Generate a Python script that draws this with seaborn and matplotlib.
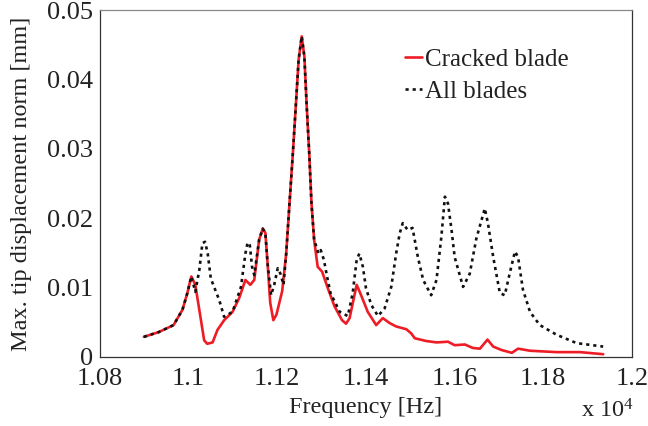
import matplotlib
matplotlib.use("Agg")
import matplotlib.pyplot as plt
import seaborn as sns
import pandas as pd

# Cracked blade response (frequency in Hz, amplitude in mm)
cracked_freq = [10899, 10933, 10966, 10986, 10997, 11006, 11015, 11024, 11035, 11042,
                11054, 11065, 11080, 11099, 11114, 11128, 11139, 11148, 11159, 11167,
                11173, 11178, 11184, 11191, 11198, 11211, 11220, 11227, 11235, 11242,
                11248, 11255, 11261, 11266, 11272, 11277, 11283, 11291, 11301, 11314,
                11329, 11346, 11355, 11363, 11379, 11389, 11404, 11423, 11438, 11453,
                11468, 11491, 11502, 11510, 11536, 11559, 11585, 11600, 11623, 11641,
                11657, 11674, 11687, 11706, 11729, 11743, 11770, 11830, 11883, 11935]
cracked_amp = [0.0029, 0.0036, 0.0046, 0.0068, 0.0092, 0.0116, 0.0104, 0.0068, 0.0024, 0.0019,
               0.0021, 0.0039, 0.0053, 0.0065, 0.0085, 0.0111, 0.0104, 0.0111, 0.0169, 0.0185,
               0.0179, 0.0135, 0.0078, 0.0053, 0.0061, 0.0095, 0.0149, 0.0217, 0.0293, 0.0365,
               0.0428, 0.0462, 0.0433, 0.0365, 0.0293, 0.0222, 0.0169, 0.0130, 0.0123, 0.0099,
               0.0073, 0.0053, 0.0048, 0.0056, 0.0104, 0.0089, 0.0065, 0.0046, 0.0056, 0.0049,
               0.0044, 0.0040, 0.0034, 0.0027, 0.0023, 0.0021, 0.0022, 0.0017, 0.0018, 0.0013,
               0.0012, 0.0025, 0.0015, 0.0010, 0.0006, 0.0012, 0.0009, 0.0007, 0.0007, 0.0004]

# All blades response
all_freq = [10899, 10933, 10966, 10986, 10997, 11006, 11015, 11024, 11031, 11037,
            11043, 11050, 11069, 11080, 11099, 11118, 11128, 11133, 11138, 11143,
            11148, 11159, 11167, 11173, 11178, 11186, 11193, 11201, 11207, 11214,
            11220, 11227, 11235, 11242, 11248, 11255, 11261, 11266, 11272, 11277,
            11283, 11293, 11298, 11305, 11314, 11320, 11341, 11359, 11370, 11379,
            11385, 11393, 11400, 11412, 11427, 11442, 11457, 11468, 11476, 11483,
            11494, 11505, 11517, 11529, 11547, 11559, 11570, 11578, 11585, 11593,
            11600, 11619, 11634, 11649, 11668, 11675, 11687, 11702, 11713, 11724,
            11736, 11743, 11754, 11770, 11792, 11830, 11875, 11935]
all_amp = [0.0029, 0.0036, 0.0046, 0.0068, 0.0092, 0.0116, 0.0094, 0.0125, 0.0164, 0.0166,
           0.0149, 0.0113, 0.0082, 0.0058, 0.0065, 0.0101, 0.0149, 0.0165, 0.0161, 0.0130,
           0.0118, 0.0169, 0.0185, 0.0179, 0.0135, 0.0089, 0.0104, 0.0128, 0.0120, 0.0104,
           0.0149, 0.0217, 0.0293, 0.0365, 0.0428, 0.0462, 0.0433, 0.0365, 0.0293, 0.0222,
           0.0169, 0.0149, 0.0154, 0.0140, 0.0110, 0.0092, 0.0065, 0.0059, 0.0092, 0.0140,
           0.0149, 0.0130, 0.0099, 0.0075, 0.0059, 0.0070, 0.0101, 0.0149, 0.0178, 0.0193,
           0.0183, 0.0186, 0.0144, 0.0111, 0.0089, 0.0111, 0.0173, 0.0231, 0.0221, 0.0183,
           0.0144, 0.0101, 0.0120, 0.0171, 0.0214, 0.0193, 0.0144, 0.0092, 0.0089, 0.0120,
           0.0152, 0.0144, 0.0097, 0.0065, 0.0046, 0.0032, 0.0020, 0.0015]

x_ticks = [10800, 11000, 11200, 11400, 11600, 11800, 12000]
x_tick_labels = ["1.08", "1.1", "1.12", "1.14", "1.16", "1.18", "1.2"]
y_ticks = [0, 0.01, 0.02, 0.03, 0.04, 0.05]
y_tick_labels = ["0", "0.01", "0.02", "0.03", "0.04", "0.05"]

sns.set_style("white")
plt.rcParams["font.family"] = ["Liberation Serif", "DejaVu Serif"]
plt.rcParams["mathtext.fontset"] = "custom"
plt.rcParams["mathtext.rm"] = "Liberation Serif"
plt.rcParams["mathtext.it"] = "Liberation Serif:italic"

fig = plt.figure(figsize=(6.48, 4.26), dpi=100)
ax = fig.add_axes([0.1543, 0.162, 0.821, 0.8145])

df_c = pd.DataFrame({"f": cracked_freq, "a": cracked_amp})
df_a = pd.DataFrame({"f": all_freq, "a": all_amp})
sns.lineplot(data=df_c, x="f", y="a", ax=ax, color="#ee1c25", lw=1.9,
             label="Cracked blade", sort=False, solid_joinstyle="round")
sns.lineplot(data=df_a, x="f", y="a", ax=ax, color="#111111", lw=1.9,
             linestyle=(0, (1.2, 1.5)), label="All blades", sort=False)

ax.set_xlim(10800, 12000)
ax.set_ylim(0, 0.05)
ax.set_xticks(x_ticks)
ax.set_xticklabels(x_tick_labels)
ax.set_yticks(y_ticks)
ax.set_yticklabels(y_tick_labels)
ax.tick_params(direction="in", length=5, width=0.8, labelsize=19, colors="#222222",
               top=False, right=False)
ax.tick_params(axis="x", pad=8)
ax.tick_params(axis="y", pad=5)
ax.get_yticklabels()[0].set_va("center_baseline")
for s in ax.spines.values():
    s.set_color("#333333")
    s.set_linewidth(0.9)
ax.spines["top"].set_color("#888888")

ax.set_xlabel("Frequency [Hz]", fontsize=17.5, color="#222222", labelpad=5)
ax.set_ylabel("Max. tip displacement norm [mm]", fontsize=17.5, color="#222222")
ax.yaxis.set_label_coords(-0.128, 0.5)
fig.text(634 / 648, 3 / 426, r"x 10$^{4}$", ha="right", va="bottom",
         fontsize=17.5, color="#222222")

leg = ax.legend(loc="upper left", bbox_to_anchor=(0.574, 0.89), frameon=False,
                fontsize=18, handlelength=0.65, handletextpad=0.15, labelspacing=0.4,
                borderaxespad=0, borderpad=0)
for t in leg.get_texts():
    t.set_color("#222222")

fig.savefig("out.png", dpi=100)
